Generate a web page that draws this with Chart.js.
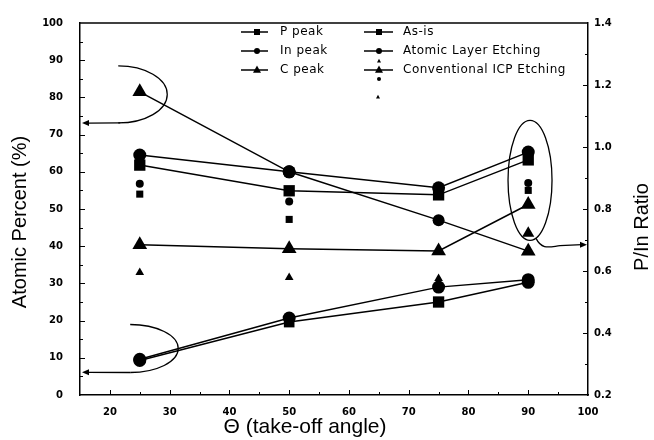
<!DOCTYPE html>
<html><head><meta charset="utf-8">
<script src="https://cdn.jsdelivr.net/npm/chart.js@4/dist/chart.umd.min.js"></script>
<style>html,body{margin:0;padding:0;background:#fff}#wrap{width:654px;height:440px}</style>
</head><body><div id="wrap"><canvas id="c" width="654" height="440"></canvas></div>
<script>
// ---- data ----
const angles = [25, 50, 75, 90];
const inPeak = [64.5, 60.0, 55.7, 65.3];
const pPeak = [61.8, 54.9, 53.8, 63.2];
const cPeak = [40.4, 39.3, 38.7, 51.2];
const ratio = [1.178, 0.920, 0.764, 0.664];        // right axis (P/In Ratio)
const lowUpper = [9.6, 20.7, 29.0, 31.0];
const lowLower = [9.3, 19.6, 25.0, 30.3];
const smallCircle = [56.8, 52.0, null, 57.0];
const smallSquare = [54.0, 47.2, null, 55.0];
const smallTriangle = [32.9, 31.6, 31.3, 43.5];
const legendCol1 = ['P peak', 'In peak', 'C peak'];
const legendCol2 = ['As-is', 'Atomic Layer Etching', 'Conventional ICP Etching'];
const xTitle = 'Θ (take-off angle)';
const yTitle = 'Atomic Percent (%)';
const y1Title = 'P/In Ratio';

const pts = arr => angles.map((a, i) => ({x: a, y: arr[i]}));
const BLACK = '#000';
function lineDs(arr, style, radius, axis) {
  return {data: pts(arr), yAxisID: axis || 'y', borderColor: BLACK, backgroundColor: BLACK,
    borderWidth: 1.5, pointStyle: style, pointRadius: radius, pointBorderWidth: 0,
    pointBackgroundColor: BLACK, showLine: true, tension: 0};
}
function dotDs(arr, style, radius) {
  return {data: pts(arr), yAxisID: 'y', borderColor: BLACK, backgroundColor: BLACK,
    pointStyle: style, pointRadius: radius, pointBorderWidth: 0, pointBackgroundColor: BLACK, showLine: false};
}

function drawMarker(ctx, style, x, y, r) {
  ctx.beginPath();
  if (style === 'rect') { ctx.rect(x - r, y - r, 2 * r, 2 * r); }
  else if (style === 'triangle') { ctx.moveTo(x, y - r * 1.1); ctx.lineTo(x + r, y + r * 0.7); ctx.lineTo(x - r, y + r * 0.7); ctx.closePath(); }
  else { ctx.arc(x, y, r, 0, Math.PI * 2); }
  ctx.fill();
}
function arrowHead(ctx, x, y, dir) {
  ctx.beginPath(); ctx.moveTo(x, y); ctx.lineTo(x - dir * 7, y - 3); ctx.lineTo(x - dir * 7, y + 3); ctx.closePath(); ctx.fill();
}

const decor = {
  id: 'decor',
  afterDraw(chart) {
    const ctx = chart.ctx, a = chart.chartArea;
    const x = chart.scales.x, y = chart.scales.y, y1 = chart.scales.y1;
    ctx.save();
    ctx.strokeStyle = BLACK; ctx.fillStyle = BLACK; ctx.lineWidth = 1.5;
    // top frame
    ctx.beginPath(); ctx.moveTo(a.left, a.top); ctx.lineTo(a.right, a.top); ctx.stroke();
    // inward tick marks
    ctx.lineWidth = 1;
    for (let v = 20; v <= 95; v += 5) {
      const px = Math.round(x.getPixelForValue(v)) + 0.5, L = v % 10 === 0 ? 5 : 3;
      ctx.beginPath(); ctx.moveTo(px, a.bottom); ctx.lineTo(px, a.bottom - L); ctx.stroke();
    }
    for (let v = 5; v <= 95; v += 5) {
      const py = Math.round(y.getPixelForValue(v)) + 0.5, L = v % 10 === 0 ? 5 : 3;
      ctx.beginPath(); ctx.moveTo(a.left, py); ctx.lineTo(a.left + L, py); ctx.stroke();
    }
    for (let k = 3; k <= 13; k++) {
      const v = k / 10, py = Math.round(y1.getPixelForValue(v)) + 0.5, L = k % 2 === 0 ? 5 : 3;
      ctx.beginPath(); ctx.moveTo(a.right, py); ctx.lineTo(a.right - L, py); ctx.stroke();
    }
    // axis titles
    ctx.font = '20px "Liberation Sans", Arial, sans-serif';
    ctx.textAlign = 'center'; ctx.textBaseline = 'middle';
    ctx.save(); ctx.translate(20, 222); ctx.rotate(-Math.PI / 2); ctx.fillText(yTitle, 0, 0); ctx.restore();
    ctx.save(); ctx.translate(642, 227); ctx.rotate(-Math.PI / 2); ctx.fillText(y1Title, 0, 0); ctx.restore();
    ctx.font = '21px "Liberation Sans", Arial, sans-serif';
    ctx.fillText(xTitle, 305, 427);
    // legend
    ctx.font = '12px "DejaVu Sans", sans-serif';
    try { ctx.letterSpacing = '0.5px'; } catch (e) {}
    ctx.textAlign = 'left';
    const styles = ['rect', 'circle', 'triangle'];
    const rows = [32, 51, 70];
    ctx.lineWidth = 1.5;
    rows.forEach((ry, i) => {
      ctx.beginPath(); ctx.moveTo(241, ry); ctx.lineTo(268, ry); ctx.stroke();
      drawMarker(ctx, styles[i], 257, ry, styles[i] === 'rect' ? 3 : (styles[i] === 'circle' ? 3 : 4));
      ctx.fillText(legendCol1[i], 280, ry);
      ctx.beginPath(); ctx.moveTo(364, ry); ctx.lineTo(393, ry); ctx.stroke();
      drawMarker(ctx, styles[i], 379, ry, styles[i] === 'rect' ? 3 : (styles[i] === 'circle' ? 3 : 4));
      ctx.fillText(legendCol2[i], 403, ry);
    });
    drawMarker(ctx, 'triangle', 379, 61, 2);
    drawMarker(ctx, 'circle', 379, 79, 2);
    drawMarker(ctx, 'triangle', 378, 97, 2);
    // annotation ellipses and arrows (geometry in axis units)
    ctx.lineWidth = 1.3;
    const ex1 = x.getPixelForValue(21.4), ey1 = y.getPixelForValue(80.8);
    ctx.beginPath(); ctx.ellipse(ex1, ey1, 49, 28.5, 0, -Math.PI / 2, Math.PI / 2); ctx.stroke();
    const ay1 = y.getPixelForValue(73.1);
    ctx.beginPath(); ctx.moveTo(ex1 + 2, ey1 + 28.5); ctx.lineTo(a.left + 8, ay1); ctx.stroke();
    arrowHead(ctx, a.left + 2, ay1, -1);
    const ex2 = x.getPixelForValue(23.4), ey2 = y.getPixelForValue(12.5);
    ctx.beginPath(); ctx.ellipse(ex2, ey2, 48, 24, 0, -Math.PI / 2, Math.PI / 2); ctx.stroke();
    const ay2 = y.getPixelForValue(6.1);
    ctx.beginPath(); ctx.moveTo(ex2, ey2 + 24); ctx.lineTo(a.left + 8, ay2); ctx.stroke();
    arrowHead(ctx, a.left + 2, ay2, -1);
    const ex3 = x.getPixelForValue(90.3), ey3 = y.getPixelForValue(57.7);
    ctx.beginPath(); ctx.ellipse(ex3, ey3, 22, 60, 0, 0, Math.PI * 2); ctx.stroke();
    const ay3 = y1.getPixelForValue(0.685);
    ctx.beginPath(); ctx.moveTo(ex3 + 6, ey3 + 58); ctx.bezierCurveTo(ex3 + 12, ey3 + 70, ex3 + 20, ay3 + 2, ex3 + 30, ay3 + 1);
    ctx.lineTo(a.right - 6, ay3); ctx.stroke();
    arrowHead(ctx, a.right - 1, ay3, 1);
    ctx.restore();
  }
};

const tickFont = {family: '"DejaVu Sans", sans-serif', size: 10, weight: 'bold'};
new Chart(document.getElementById('c'), {
  type: 'line',
  data: {datasets: [
    lineDs(ratio, ['triangle', 'circle', 'circle', 'triangle'], [8.5, 6.5, 6, 8.5], 'y1'),
    lineDs(cPeak, 'triangle', 8.5),
    lineDs(lowUpper, 'circle', 6.5),
    lineDs(lowLower, ['circle', 'rect', 'rect', 'circle'], [6.5, 7.5, 8, 6.5]),
    lineDs(pPeak, 'rect', 8),
    lineDs(inPeak, 'circle', 6.5),
    dotDs(smallCircle, 'circle', 4),
    dotDs(smallSquare, 'rect', 5),
    dotDs(smallTriangle, 'triangle', [5, 5, 5, 7])
  ]},
  options: {
    responsive: false, animation: false, devicePixelRatio: 1,
    layout: {padding: {top: 19, left: 0, right: 0, bottom: 0}},
    plugins: {legend: {display: false}, tooltip: {enabled: false}},
    elements: {line: {borderCapStyle: 'butt'}},
    scales: {
      x: {type: 'linear', position: 'bottom', min: 15, max: 100,
        grid: {display: false, drawTicks: false},
        border: {display: true, color: BLACK, width: 1.5},
        ticks: {stepSize: 10, includeBounds: false, color: BLACK, font: tickFont, padding: 11, maxRotation: 0},
        afterFit: s => { s.height = 45; }},
      y: {type: 'linear', position: 'left', min: 0, max: 100,
        grid: {display: false, drawTicks: false},
        border: {display: true, color: BLACK, width: 1.5},
        ticks: {stepSize: 10, color: BLACK, font: tickFont, padding: 17},
        afterFit: s => { s.width = 80; }},
      y1: {type: 'linear', position: 'right', min: 0.2, max: 1.4,
        grid: {display: false, drawTicks: false},
        border: {display: true, color: BLACK, width: 1.5},
        ticks: {stepSize: 0.2, color: BLACK, font: tickFont, padding: 6, callback: v => Number(v).toFixed(1)},
        afterFit: s => { s.width = 66; }}
    }
  },
  plugins: [decor]
});
</script></body></html>
